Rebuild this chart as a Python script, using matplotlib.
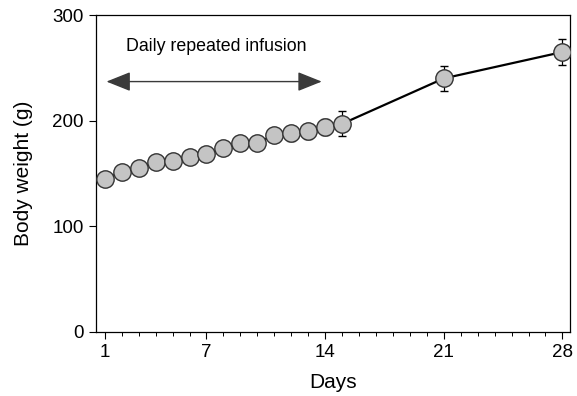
import matplotlib
matplotlib.use("Agg")
import matplotlib.pyplot as plt
from matplotlib.ticker import MultipleLocator

days = [1, 2, 3, 4, 5, 6, 7, 8, 9, 10, 11, 12, 13, 14, 15, 21, 28]
weight = [145, 151, 155, 161, 162, 166, 168, 174, 179, 179, 186, 188, 190, 194, 197, 240, 265]
err = [3, 3, 3, 4, 4, 4, 4, 5, 6, 6, 6, 7, 7, 8, 12, 12, 12]
xticks = [1, 7, 14, 21, 28]
yticks = [0, 100, 200, 300]
arrow_days = [1.1, 13.8]
arrow_y = 237
label = "Daily repeated infusion"

plt.rcParams['font.family'] = ['Liberation Sans', 'DejaVu Sans']
fig = plt.figure(figsize=(5.77, 3.96), dpi=100)
ax = fig.add_axes([0.166, 0.162, 0.822, 0.800])

ax.errorbar(days, weight, yerr=err, color='black', lw=1.6, capsize=3, elinewidth=0.9,
            capthick=0.9, marker='o', ms=12.5, mfc='#c4c4c4', mec='#333333', mew=1.0, zorder=3)

ax.annotate('', xy=(arrow_days[0], arrow_y), xytext=(arrow_days[1], arrow_y),
            arrowprops=dict(arrowstyle='<|-|>,head_length=1.0,head_width=0.4',
                            color='#3a3a3a', lw=1.0,
                            mutation_scale=15, shrinkA=0, shrinkB=0))
ax.text(7.6, 270, label, ha='center', va='center', fontsize=12.8)

ax.set_xlim(0.47, 28.45)
ax.set_ylim(0, 300)
ax.set_xticks(xticks)
ax.set_yticks(yticks)
ax.xaxis.set_minor_locator(MultipleLocator(1))
ax.tick_params(axis='both', which='major', direction='out', length=5, labelsize=13.5, width=0.8)
ax.tick_params(axis='x', which='minor', direction='out', length=3, width=0.7)
ax.set_xlabel('Days', fontsize=15, labelpad=9)
ax.set_ylabel('Body weight (g)', fontsize=15, labelpad=14)
for s in ax.spines.values():
    s.set_linewidth(0.9)

fig.savefig('out.png', dpi=100)
